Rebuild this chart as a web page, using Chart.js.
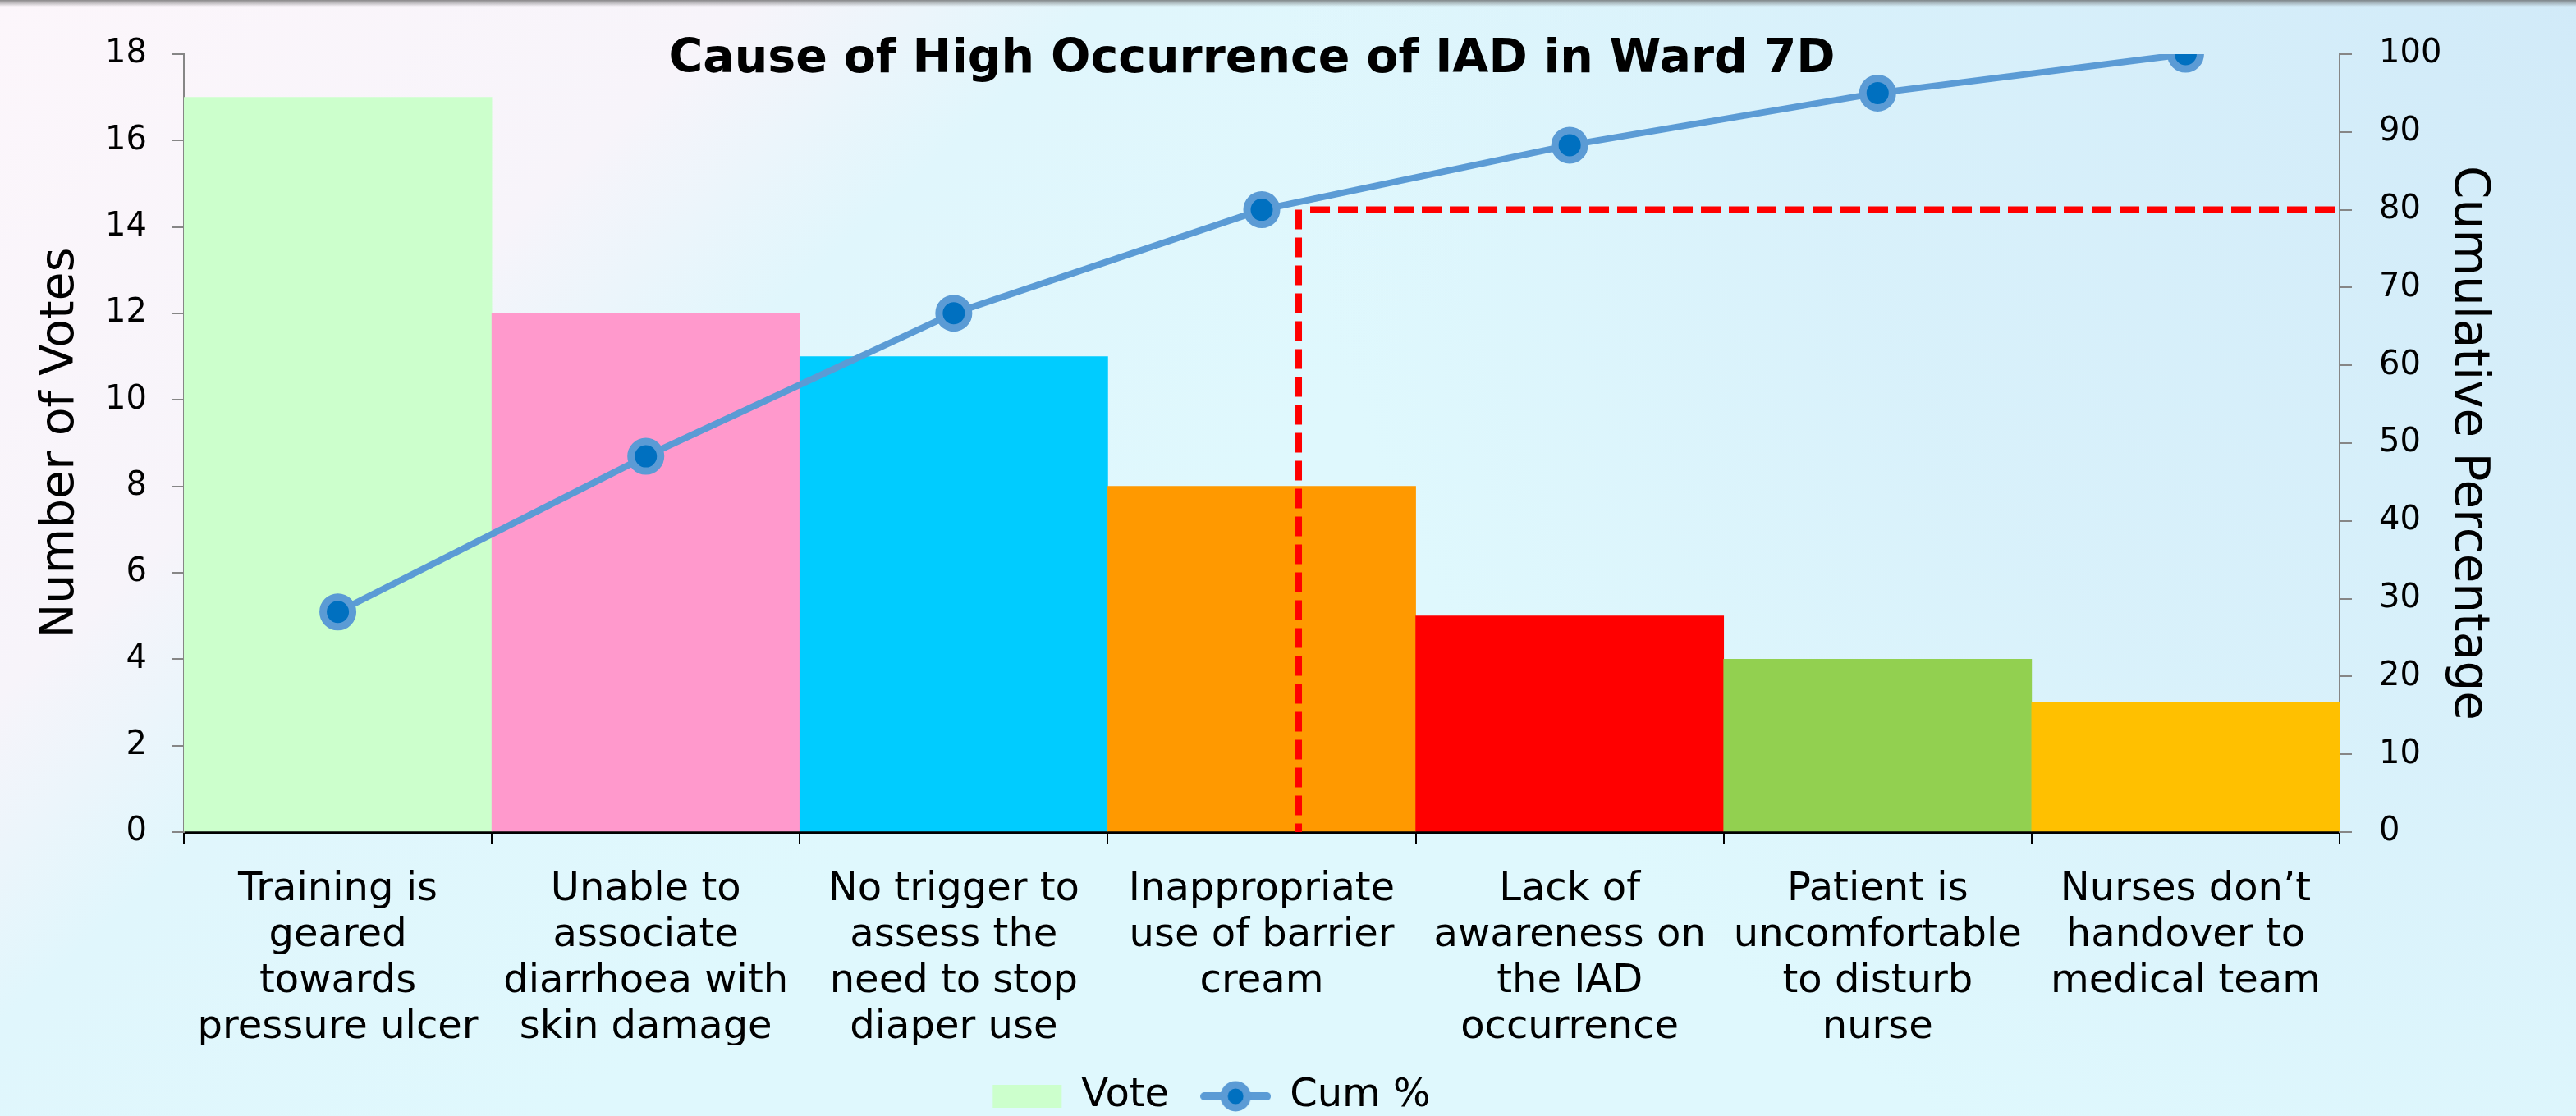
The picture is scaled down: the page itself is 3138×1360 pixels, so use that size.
<!DOCTYPE html>
<html>
<head>
<meta charset="utf-8">
<title>Cause of High Occurrence of IAD in Ward 7D</title>
<script src="https://cdn.jsdelivr.net/npm/chart.js@4.4.1/dist/chart.umd.min.js"></script>
<style>
    html, body { margin: 0; padding: 0; }
    body { width: 3138px; height: 1360px; overflow: hidden; }
</style>
</head>
<body>
<canvas id="chart" width="3138" height="1360"></canvas>
<script>
var title_text = 'Cause of High Occurrence of IAD in Ward 7D';

var causes = [
    ['Training is', 'geared', 'towards', 'pressure ulcer'],
    ['Unable to', 'associate', 'diarrhoea with', 'skin damage'],
    ['No trigger to', 'assess the', 'need to stop', 'diaper use'],
    ['Inappropriate', 'use of barrier', 'cream'],
    ['Lack of', 'awareness on', 'the IAD', 'occurrence'],
    ['Patient is', 'uncomfortable', 'to disturb', 'nurse'],
    ['Nurses don\u2019t', 'handover to', 'medical team']
];
var votes = [17, 12, 11, 8, 5, 4, 3];
var cum_pct = [28.3, 48.3, 66.7, 80, 88.3, 95, 100];

var vote_ticks = [0, 2, 4, 6, 8, 10, 12, 14, 16, 18];
var pct_ticks = [0, 10, 20, 30, 40, 50, 60, 70, 80, 90, 100];

// red 80% marker: drops a bit right of the 4th bar centre
var cutoff_pos = 3.12;
var cutoff_pct = 80;

var bar_colors = ['#ccffcc', '#ff99cc', '#00ccff', '#ff9900', '#ff0000', '#92d050', '#ffc000'];
var line_color = '#5b9bd5';
var dot_color = '#0070c0';

Chart.defaults.font.family = '"DejaVu Sans", sans-serif';
Chart.defaults.color = '#000000';

// legend icon for the line series (line with a dot)
var cum_icon = document.createElement('canvas');
cum_icon.width = 86;
cum_icon.height = 44;
var ic = cum_icon.getContext('2d');
ic.strokeStyle = line_color;
ic.lineWidth = 10;
ic.lineCap = 'round';
ic.beginPath(); ic.moveTo(5, 22); ic.lineTo(81, 22); ic.stroke();
ic.beginPath(); ic.arc(43, 22, 14, 0, 2 * Math.PI);
ic.fillStyle = dot_color; ic.fill();
ic.lineWidth = 9; ic.stroke();

var background = {
    id: 'background',
    beforeDraw: function (chart) {
        var c = chart.ctx, w = chart.width, h = chart.height;
        c.save();
        var g = c.createLinearGradient(0, 0, w * 0.32, h * 0.8);
        g.addColorStop(0, '#fcf6fb');
        g.addColorStop(0.42, '#f7f4fa');
        g.addColorStop(0.62, '#e0f6fc');
        g.addColorStop(1, '#dff8fd');
        c.fillStyle = g;
        c.fillRect(0, 0, w, h);
        var g2 = c.createRadialGradient(w, 0, 0, w, 0, w * 0.5);
        g2.addColorStop(0, 'rgba(208,233,248,0.9)');
        g2.addColorStop(0.6, 'rgba(212,236,249,0.6)');
        g2.addColorStop(1, 'rgba(214,237,249,0)');
        c.fillStyle = g2;
        c.fillRect(0, 0, w, h);
        var g3 = c.createLinearGradient(0, 0, 0, 8);
        g3.addColorStop(0, 'rgba(90,90,90,0.7)');
        g3.addColorStop(1, 'rgba(90,90,90,0)');
        c.fillStyle = g3;
        c.fillRect(0, 0, w, 8);
        c.restore();
    }
};

var cutoff = {
    id: 'cutoff',
    afterDatasetDraw: function (chart, args) {
        if (args.index !== 0) return;
        var x = chart.scales.x.getPixelForValue(cutoff_pos);
        var y2 = chart.scales.y2;
        var top = y2.getPixelForValue(cutoff_pct);
        var bottom = y2.getPixelForValue(0);
        var c = chart.ctx;
        c.save();
        c.strokeStyle = '#ff0000';
        c.lineWidth = 8;
        c.setLineDash([24, 10]);
        c.beginPath(); c.moveTo(x, top); c.lineTo(x, bottom); c.stroke();
        c.beginPath(); c.moveTo(x + 14, top); c.lineTo(chart.chartArea.right, top); c.stroke();
        c.restore();
    }
};

var overTitle = {
    id: 'overTitle',
    afterDraw: function (chart) {
        var a = chart.chartArea, c = chart.ctx;
        c.save();
        c.font = 'bold 57px "DejaVu Sans"';
        c.fillStyle = '#000000';
        c.textAlign = 'center';
        c.textBaseline = 'alphabetic';
        c.fillText(title_text, (a.left + a.right) / 2 - 12, a.top + 22);
        c.restore();
    }
};

var ctx = document.getElementById('chart');

var cfg = {
    type: 'bar',
    data: {
        labels: causes,
        datasets: [{
            type: 'bar',
            label: 'Vote',
            data: votes,
            yAxisID: 'y',
            backgroundColor: bar_colors,
            borderWidth: 0,
            barPercentage: 1,
            categoryPercentage: 1,
            order: 1
        }, {
            type: 'line',
            label: 'Cum %',
            data: cum_pct,
            yAxisID: 'y2',
            borderColor: line_color,
            borderWidth: 8,
            pointRadius: 18,
            pointHoverRadius: 18,
            pointBorderWidth: 9,
            pointBackgroundColor: dot_color,
            pointBorderColor: line_color,
            tension: 0,
            order: 0
        }]
    },
    options: {
        responsive: false,
        animation: false,
        layout: {
            padding: { left: -100, right: 86, top: 66, bottom: -10 }
        },
        scales: {
            x: {
                afterFit: function (scale) { scale.height = 259; },
                grid: {
                    display: true,
                    drawOnChartArea: false,
                    tickLength: 15,
                    color: '#000000',
                    lineWidth: 2
                },
                border: { display: true, color: '#000000', width: 3 },
                ticks: {
                    color: '#000000',
                    font: { size: 48, lineHeight: '56px' },
                    padding: 28,
                    maxRotation: 0,
                    autoSkip: false
                }
            },
            y: {
                position: 'left',
                afterFit: function (scale) { scale.width = 324; },
                min: vote_ticks[0],
                max: vote_ticks[vote_ticks.length - 1],
                ticks: {
                    stepSize: vote_ticks[1] - vote_ticks[0],
                    color: '#000000',
                    font: { size: 40 },
                    padding: 30
                },
                grid: {
                    drawOnChartArea: false,
                    tickLength: 15,
                    color: '#868686',
                    lineWidth: 2
                },
                border: { color: '#868686', width: 2 },
                title: {
                    display: true,
                    text: 'Number of Votes',
                    color: '#000000',
                    font: { size: 57 },
                    padding: { top: 140, bottom: 0 }
                }
            },
            y2: {
                position: 'right',
                afterFit: function (scale) { scale.width = 202; },
                min: pct_ticks[0],
                max: pct_ticks[pct_ticks.length - 1],
                ticks: {
                    stepSize: pct_ticks[1] - pct_ticks[0],
                    color: '#000000',
                    font: { size: 40 },
                    padding: 33
                },
                grid: {
                    drawOnChartArea: false,
                    tickLength: 15,
                    color: '#868686',
                    lineWidth: 2
                },
                border: { color: '#868686', width: 2 },
                title: {
                    display: true,
                    text: 'Cumulative Percentage',
                    color: '#000000',
                    font: { size: 58 },
                    padding: { top: 11, bottom: 0 }
                }
            }
        },
        plugins: {
            title: { display: false },
            tooltip: { enabled: false },
            legend: {
                display: true,
                position: 'bottom',
                labels: {
                    color: '#000000',
                    font: { size: 48 },
                    padding: 39,
                    usePointStyle: true,
                    pointStyleWidth: 84,
                    boxHeight: 28,
                    generateLabels: function (chart) {
                        var items = Chart.defaults.plugins.legend.labels.generateLabels(chart);
                        items.sort(function (a, b) { return a.datasetIndex - b.datasetIndex; });
                        items.forEach(function (it) {
                            if (it.datasetIndex === 0) {
                                it.pointStyle = 'rect';
                                it.lineWidth = 0;
                            } else {
                                it.pointStyle = cum_icon;
                            }
                        });
                        return items;
                    }
                }
            }
        }
    },
    plugins: [background, cutoff, overTitle]
};

const chart = new Chart(ctx, cfg);
</script>
</body>
</html>
